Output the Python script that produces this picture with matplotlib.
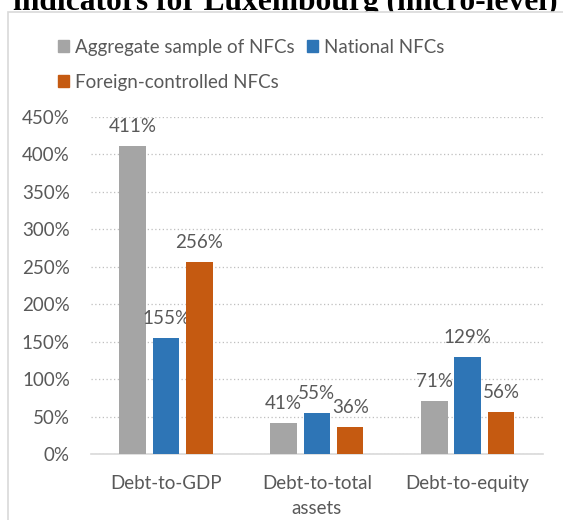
import numpy as np
import matplotlib.pyplot as plt
from matplotlib.patches import Rectangle, Patch
from matplotlib.ticker import FuncFormatter

categories = ['Debt-to-GDP', 'Debt-to-total\nassets', 'Debt-to-equity']
series_names = ['Aggregate sample of NFCs', 'National NFCs', 'Foreign-controlled NFCs']
aggregate = [411, 41, 71]
national = [155, 55, 129]
foreign = [256, 36, 56]
yticks = [0, 50, 100, 150, 200, 250, 300, 350, 400, 450]

colors = ['#a5a5a5', '#2e75b6', '#c55a11']
text_color = '#595959'
font = 'Lato'
fs = 13.5

fig = plt.figure(figsize=(5.63, 5.2), dpi=100)
W, H = 563, 520

# title sits behind the chart area, so its lower part is hidden
fig.text(13 / W, 1 - 10 / H, 'indicators for Luxembourg (micro-level)',
         family='Liberation Serif', weight='bold', fontsize=22.7,
         va='baseline', ha='left', color='black', zorder=0)

# chart area (white, only left and top edges visible)
fig.patches.append(Rectangle((8.3 / W, -0.1), 1.1, 1 - 11.5 / H + 0.1,
                             transform=fig.transFigure, facecolor='white',
                             edgecolor='#d9d9d9', linewidth=1.2, zorder=1))

ax = fig.add_axes([90.7 / W, 1 - 454 / H, (543 - 90.7) / W, (454 - 117) / H])
ax.set_zorder(2)
ax.patch.set_alpha(0)

x = np.arange(len(categories))
width = 0.176
step = 0.221
for i, (vals, c) in enumerate(zip([aggregate, national, foreign], colors)):
    pos = x + (i - 1) * step
    ax.bar(pos, vals, width, color=c, zorder=3)
    for p, v in zip(pos, vals):
        ax.annotate(f'{v}%', (p, v), xytext=(0, 14), textcoords='offset points',
                    ha='center', va='center', fontsize=fs, color=text_color,
                    family=font)

ax.set_xlim(-0.5, 2.5)
ax.set_ylim(0, 450)
ax.set_yticks(yticks)
ax.yaxis.set_major_formatter(FuncFormatter(lambda v, _: f'{int(v)}%'))
ax.set_xticks(x)
ax.set_xticklabels(categories, linespacing=1.6)
ax.grid(axis='y', linestyle=(0, (1, 2)), color='#bfbfbf', linewidth=0.9, zorder=0)
for s in ['left', 'right', 'top']:
    ax.spines[s].set_visible(False)
ax.spines['bottom'].set_color('#d9d9d9')
ax.spines['bottom'].set_linewidth(1.2)
ax.tick_params(axis='both', length=0, labelsize=fs, labelcolor=text_color)
ax.tick_params(axis='x', pad=15)
ax.tick_params(axis='y', pad=15)
for lbl in ax.get_xticklabels() + ax.get_yticklabels():
    lbl.set_family(font)

handles = [Patch(color=c) for c in colors]
order = [0, 2, 1]
leg = fig.legend([handles[k] for k in order], [series_names[k] for k in order],
                 ncol=2, loc='upper left', bbox_to_anchor=(41 / W, 1 - 22 / H),
                 frameon=False, prop={'family': font, 'size': fs},
                 labelcolor=text_color, handlelength=0.57, handleheight=0.57,
                 handletextpad=0.32, columnspacing=0.68, labelspacing=0.95)
leg.set_zorder(5)

fig.savefig('out.png', dpi=100)
